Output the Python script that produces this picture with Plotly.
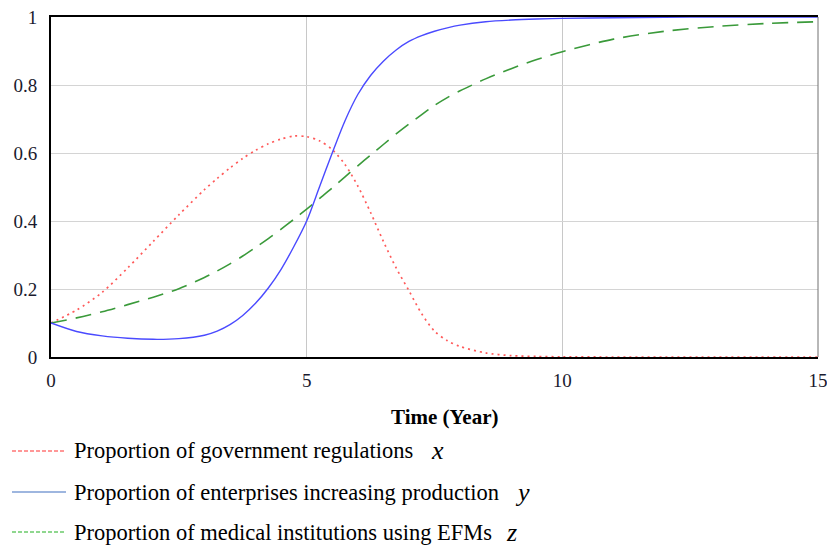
import plotly.graph_objects as go

time = [0, 0.5, 1, 1.5, 2, 2.5, 3, 3.25, 3.5, 3.75, 4, 4.25, 4.5, 4.75, 5, 5.25, 5.5, 5.75, 6, 6.25, 6.5, 6.75, 7, 7.25, 7.5, 7.75, 8, 8.5, 9, 9.5, 10, 11, 12, 13, 14, 15]
gov_x = [0.1, 0.138, 0.19, 0.262, 0.34, 0.418, 0.492, 0.525, 0.556, 0.584, 0.608, 0.627, 0.641, 0.65, 0.648, 0.636, 0.610, 0.566, 0.503, 0.425, 0.34, 0.262, 0.195, 0.127, 0.076, 0.048, 0.031, 0.012, 0.004, 0.0015, 0.0005, 0.0, 0.0, 0.0, 0.0, 0.0]
ent_y = [0.1, 0.075, 0.062, 0.055, 0.052, 0.054, 0.064, 0.076, 0.095, 0.122, 0.158, 0.203, 0.258, 0.325, 0.40, 0.50, 0.60, 0.695, 0.772, 0.828, 0.87, 0.903, 0.928, 0.945, 0.958, 0.968, 0.976, 0.986, 0.991, 0.994, 0.996, 0.998, 0.999, 1.0, 1.0, 1.0]
med_z = [0.1, 0.115, 0.133, 0.154, 0.176, 0.201, 0.234, 0.253, 0.274, 0.297, 0.322, 0.348, 0.376, 0.405, 0.435, 0.466, 0.497, 0.53, 0.562, 0.594, 0.625, 0.656, 0.685, 0.713, 0.74, 0.763, 0.783, 0.818, 0.848, 0.875, 0.898, 0.935, 0.958, 0.972, 0.981, 0.986]

x_ticks = [0, 5, 10, 15]
y_ticks = [0, 0.2, 0.4, 0.6, 0.8, 1]
y_tick_text = ["0", "0.2", "0.4", "0.6", "0.8", "1"]

legend_labels = ["Proportion of government regulations",
                 "Proportion of enterprises increasing production",
                 "Proportion of medical institutions using EFMs"]
legend_symbols = ["x", "y", "z"]

fig = go.Figure()
fig.add_trace(go.Scatter(x=time, y=gov_x, mode="lines", line=dict(color="#ff5a5a", width=1.7, dash="2px,4px", shape="spline", smoothing=0.8), showlegend=False))
fig.add_trace(go.Scatter(x=time, y=med_z, mode="lines", line=dict(color="#3a9a3a", width=1.6, dash="16px,9px", shape="spline", smoothing=0.8), showlegend=False))
fig.add_trace(go.Scatter(x=time, y=ent_y, mode="lines", line=dict(color="#4a4aff", width=1.4, shape="spline", smoothing=0.8), showlegend=False))

serif = "Liberation Serif"
fig.update_layout(
    width=827, height=547,
    margin=dict(l=51, r=9, t=17, b=190, autoexpand=False),
    paper_bgcolor="white", plot_bgcolor="white",
    font=dict(family=serif, size=19, color="#1a1a2e"),
    xaxis=dict(range=[0, 15], tickvals=x_ticks, ticktext=[str(v) for v in x_ticks],
               showgrid=True, gridcolor="#c8c8c8", gridwidth=1, automargin=False,
               showline=True, linecolor="black", linewidth=2, mirror=True,
               ticks="", zeroline=False, ticklabelstandoff=5, ticklabeloverflow="allow"),
    yaxis=dict(range=[0, 1], tickvals=y_ticks, ticktext=y_tick_text,
               showgrid=True, gridcolor="#d4d4d4", gridwidth=1, automargin=False,
               showline=True, linecolor="black", linewidth=2,
               ticks="", zeroline=False, ticklabelstandoff=8, ticklabeloverflow="allow"),
)
# right border (thin gray)
fig.add_shape(type="line", xref="paper", yref="paper", x0=1, x1=1, y0=0, y1=1,
              line=dict(color="#707070", width=1))

fig.add_annotation(text="<b>Time (Year)</b>", xref="paper", yref="paper",
                   x=(445 - 51) / 767, y=(357 - 417) / 340, xanchor="center", yanchor="middle",
                   showarrow=False, font=dict(family=serif, size=21, color="black"))

rows_y = [451, 492, 532]
sample_colors = ["#ff3030", "#3f6fbf", "#20b020"]
sample_dash = ["4px,2px", "solid", "4px,2px"]
sym_x = [438, 522, 511]
for i in range(3):
    yp = (357 - rows_y[i]) / 340
    fig.add_shape(type="line", xref="paper", yref="paper",
                  x0=(12 - 51) / 767, x1=(66 - 51) / 767, y0=yp, y1=yp,
                  line=dict(color=sample_colors[i], width=1.2, dash=sample_dash[i]))
    fig.add_annotation(text=legend_labels[i], xref="paper", yref="paper",
                       x=(72 - 51) / 767, y=yp, xanchor="left", yanchor="middle",
                       showarrow=False, font=dict(family=serif, size=22.5, color="black"))
    fig.add_annotation(text="<i>" + legend_symbols[i] + "</i>", xref="paper", yref="paper",
                       x=(sym_x[i] - 51) / 767, y=yp, xanchor="center", yanchor="middle",
                       showarrow=False, font=dict(family=serif, size=26, color="black"))

fig.write_html("out.html", config={"displayModeBar": False},
               post_script="document.body.style.margin='0';document.body.style.overflow='hidden';")
